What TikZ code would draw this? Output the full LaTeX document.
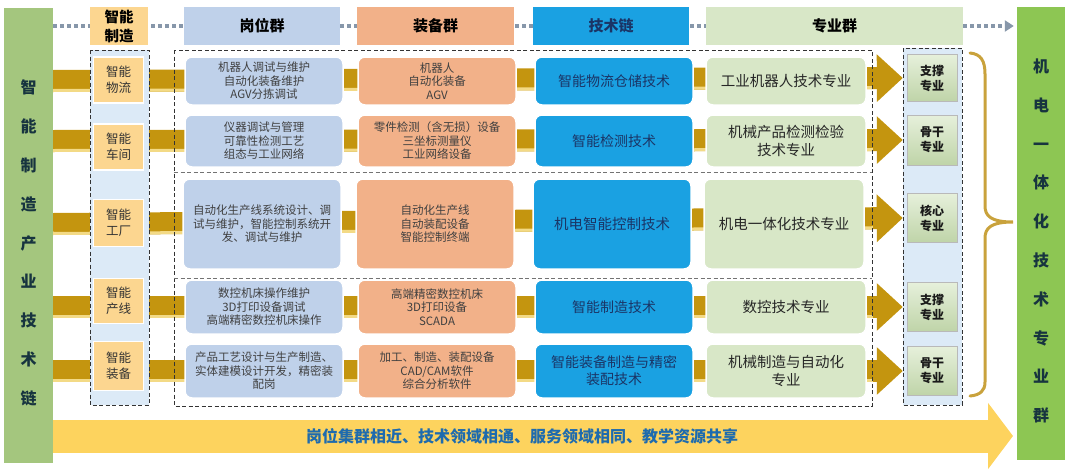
\documentclass[tikz,border=0pt]{standalone}
\usepackage{fontspec}
\setmainfont{Noto Sans CJK SC}
\usetikzlibrary{arrows.meta}
\definecolor{leftgreen}{HTML}{A4C67E}
\definecolor{rightgreen}{HTML}{8DC653}
\definecolor{sceneorange}{HTML}{FCD690}
\definecolor{jobblue}{HTML}{BFD1EA}
\definecolor{equipsalmon}{HTML}{F2B189}
\definecolor{techblue}{HTML}{1AA1E2}
\definecolor{majorgreen}{HTML}{D8E7C7}
\definecolor{levellight}{HTML}{E6F0DB}
\definecolor{leveldark}{HTML}{BFD4A8}
\definecolor{panelblue}{HTML}{DCEAF7}
\definecolor{bargold}{HTML}{C4950F}
\definecolor{barlight}{HTML}{F3DA86}
\definecolor{shareyellow}{HTML}{FDD35E}
\definecolor{bracegold}{HTML}{C9A23C}
\definecolor{navytext}{HTML}{1A3566}
\definecolor{sidetext}{HTML}{17343F}
\definecolor{sharetext}{HTML}{1E6BAE}
\definecolor{dotgray}{HTML}{8797AA}
\pgfdeclarelayer{bars}
\pgfdeclarelayer{panels}
\pgfsetlayers{bars,panels,main}

\begin{document}
\begin{tikzpicture}[x=1pt,y=-1pt,
    every node/.style={inner sep=0pt,align=center},
    sidecol/.style={minimum width=49pt,minimum height=455pt},
    sidelbl/.style={font=\fontsize{16}{38.8}\selectfont\bfseries,text=sidetext},
    headbox/.style={minimum height=38pt,font=\fontsize{15}{19}\selectfont\bfseries},
    scenebox/.style={fill=sceneorange,draw=white,line width=1.2pt,minimum width=50pt,minimum height=46pt,
        font=\fontsize{12.5}{16}\selectfont,text=black!80},
    jobbox/.style={rounded corners=7pt,fill=jobblue,draw=white,line width=1.5pt,minimum width=158pt,
        font=\fontsize{11.5}{13.5}\selectfont,text=black!75},
    equipbox/.style={jobbox,fill=equipsalmon},
    techbox/.style={jobbox,fill=techblue,text=navytext,font=\fontsize{14}{17}\selectfont},
    majorbox/.style={jobbox,fill=majorgreen,minimum width=160pt,text=black!85,font=\fontsize{14.5}{17.5}\selectfont},
    levelbox/.style={top color=levellight,bottom color=leveldark,draw=gray!55,minimum width=50pt,minimum height=47pt,
        font=\fontsize{12}{15}\selectfont\bfseries,text=black!90},
    goldbar/.style={bargold,line width=22pt,-{Triangle[width=46pt,length=26pt]},shorten >=4pt},
    panel/.style={draw=black!80,line width=1pt,dash pattern=on 4pt off 2.5pt}
  ]
  \useasboundingbox (0,0) rectangle (1071,471);

%side columns
  \node[sidecol,fill=leftgreen] (leftcol) at (28.5,235) {};
  \node[sidelbl] (leftlbl) at (28.5,243) {智\\能\\制\\造\\产\\业\\技\\术\\链};
  \node[sidecol,fill=rightgreen,minimum width=48pt,minimum height=453pt] (rightcol) at (1041,233.5) {};
  \node[sidelbl] (rightlbl) at (1041,241) {机\\电\\一\\体\\化\\技\\术\\专\\业\\群};

%headers
  \node[headbox,fill=sceneorange,minimum width=58pt,font=\fontsize{14.5}{19}\selectfont\bfseries] (hscene) at (119,26) {智能\\制造};
  \node[headbox,fill=jobblue,minimum width=156pt] (hjob) at (262,26) {岗位群};
  \node[headbox,fill=equipsalmon,minimum width=157pt] (hequip) at (435.5,26) {装备群};
  \node[headbox,fill=techblue,minimum width=156pt,text=navytext] (htech) at (611,26) {技术链};
  \node[headbox,fill=majorgreen,minimum width=257pt] (hmajor) at (834.5,26) {专业群};

%row 1
  \node[scenebox] (scene1) at (118.5,80) {智能\\物流};
  \node[jobbox,minimum height=48pt] (job1) at (264,81) {机器人调试与维护\\自动化装备维护\\AGV分拣调试};
  \node[equipbox,minimum height=48pt] (equip1) at (437,81) {机器人\\自动化装备\\AGV};
  \node[techbox,minimum height=48pt] (tech1) at (614,81) {智能物流仓储技术};
  \node[majorbox,minimum height=48pt] (major1) at (786,81) {工业机器人技术专业};
  \node[levelbox] (level1) at (932,78) {支撑\\专业};
%row 2
  \node[scenebox] (scene2) at (118.5,147) {智能\\车间};
  \node[jobbox,minimum height=52pt] (job2) at (264,141) {仪器调试与管理\\可靠性检测工艺\\组态与工业网络};
  \node[equipbox,minimum height=52pt] (equip2) at (437,141) {零件检测（含无损）设备\\三坐标测量仪\\工业网络设备};
  \node[techbox,minimum height=52pt] (tech2) at (614,141) {智能检测技术};
  \node[majorbox,minimum height=52pt] (major2) at (786,141) {机械产品检测检验\\技术专业};
  \node[levelbox,minimum height=50pt] (level2) at (932,140) {骨干\\专业};
%row 3
  \node[scenebox,minimum height=47pt] (scene3) at (118.5,223) {智能\\工厂};
  \node[jobbox,minimum height=90pt] (job3) at (262,224) {自动化生产线系统设计、调\\试与维护，智能控制系统开\\发、调试与维护};
  \node[equipbox,minimum height=90pt] (equip3) at (435,224) {自动化生产线\\自动装配设备\\智能控制终端};
  \node[techbox,minimum height=90pt,font=\fontsize{14.5}{17.5}\selectfont] (tech3) at (612,224) {机电智能控制技术};
  \node[majorbox,minimum height=90pt] (major3) at (784,224) {机电一体化技术专业};
  \node[levelbox,minimum height=49pt] (level3) at (932,218) {核心\\专业};
%row 4
  \node[scenebox,minimum height=45pt] (scene4) at (118.5,301) {智能\\产线};
  \node[jobbox,minimum height=54pt] (job4) at (264,307) {数控机床操作维护\\3D打印设备调试\\高端精密数控机床操作};
  \node[equipbox,minimum height=54pt] (equip4) at (437,307) {高端精密数控机床\\3D打印设备\\SCADA};
  \node[techbox,minimum height=54pt] (tech4) at (614,307) {智能制造技术};
  \node[majorbox,minimum height=54pt] (major4) at (786,307) {数控技术专业};
  \node[levelbox,minimum height=49pt] (level4) at (932,307) {支撑\\专业};
%row 5
  \node[scenebox,minimum height=49pt] (scene5) at (118.5,366) {智能\\装备};
  \node[jobbox,minimum height=54pt] (job5) at (264,371) {产品工艺设计与生产制造、\\实体建模设计开发，精密装\\配岗};
  \node[equipbox,minimum height=54pt] (equip5) at (437,371) {加工、制造、装配设备\\CAD/CAM软件\\综合分析软件};
  \node[techbox,minimum height=54pt] (tech5) at (614,371) {智能装备制造与精密\\装配技术};
  \node[majorbox,minimum height=54pt] (major5) at (786,371) {机械制造与自动化\\专业};
  \node[levelbox,minimum height=49pt] (level5) at (932,371) {骨干\\专业};

%shared resources arrow
  \coordinate (sharetip) at (1013,436);
  \node[font=\fontsize{16}{19}\selectfont\bfseries,text=sharetext] (share) at (522,436)
    {岗位集群相近、技术领域相通、服务领域相同、教学资源共享};

%dashed panels
  \begin{pgfonlayer}{panels}
    \draw[panel,fill=panelblue] (90,50) rectangle (149,405);
    \draw[panel] (174,50) rectangle (872,406);
    \draw[panel,draw=black!55] (174,172) -- (872,172);
    \draw[panel,draw=black!55] (174,278) -- (872,278);
    \draw[panel,fill=panelblue] (903,48) rectangle (962,405);
  \end{pgfonlayer}

%gold bars and header line
  \begin{pgfonlayer}{bars}
    \foreach \i in {1,...,5} {
      \draw[goldbar] (leftcol.east |- job\i) -- (level\i.west);
      \draw[barlight,line width=3pt,shorten >=34pt]
        ([yshift=-9.5pt]leftcol.east |- job\i) -- ([yshift=-9.5pt]level\i.west);
    }
    \draw[dotgray,line width=3.5pt,dash pattern=on 4pt off 3pt,-{Triangle[width=11pt,length=9pt]},shorten >=3pt]
      (leftcol.east |- hjob) -- (rightcol.west |- hjob);
    \draw[shareyellow,line width=33pt,-{Triangle[width=65pt,length=25pt]}] (leftcol.east |- sharetip) -- (sharetip);
  \end{pgfonlayer}

%brace
  \draw[bracegold,line width=3pt,line cap=round]
    (970,53) .. controls (981,54) and (985,61) .. (985,74) -- (985,206)
    .. controls (985,216) and (991,222) .. (1013,222)
    .. controls (991,222) and (985,228) .. (985,238) -- (985,382)
    .. controls (985,391) and (980,395) .. (970,396);
\end{tikzpicture}
\end{document}
